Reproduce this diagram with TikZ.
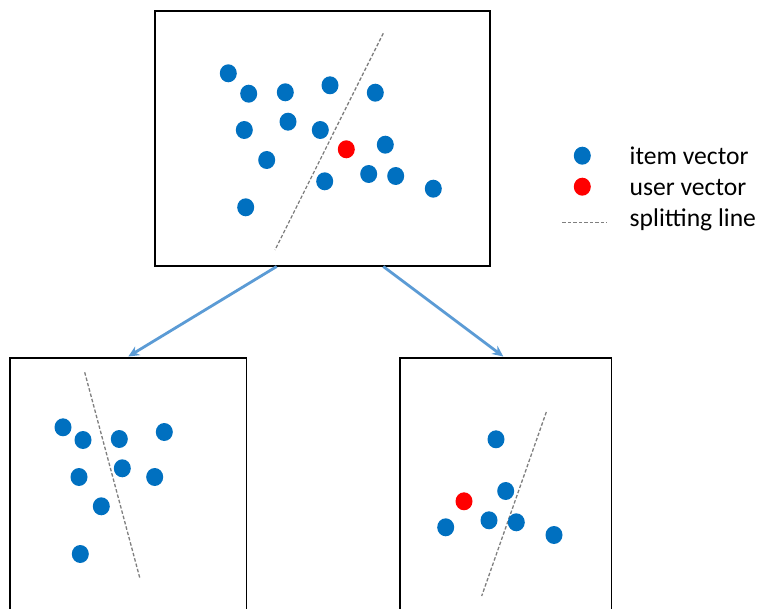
\documentclass[tikz,border=0pt]{standalone}
\usepackage{fontspec}
\setmainfont{Carlito}
\usetikzlibrary{shapes.geometric,arrows.meta}
\definecolor{itemblue}{HTML}{0070C0}
\definecolor{userred}{HTML}{FF0000}
\definecolor{arrowblue}{HTML}{5B9BD5}
\definecolor{splitgray}{HTML}{7F7F7F}
\tikzset{
  panel/.style={draw=black, line width=1.5pt},
  item/.style={ellipse, fill=itemblue, draw=none, inner sep=0pt, minimum width=17pt, minimum height=18pt},
  user/.style={ellipse, fill=userred, draw=none, inner sep=0pt, minimum width=17pt, minimum height=18pt},
  splitline/.style={draw=splitgray, line width=1.3pt, dash pattern=on 3.5pt off 2pt},
  flow/.style={draw=arrowblue, line width=2.8pt, -{Stealth[length=11pt,width=10pt]}},
  legendtext/.style={anchor=base west, inner sep=0pt, font=\fontsize{25.6}{30}\selectfont}
}
\begin{document}
\begin{tikzpicture}[x=1pt,y=-1pt]
\useasboundingbox (0,0) rectangle (760,609);
% top panel
\node[panel, rectangle, minimum width=335pt, minimum height=255pt, inner sep=0pt] (top) at (322.5,138.5) {};
\coordinate (ts1) at (383.3,33.3);
\coordinate (ts2) at (275,250);
\draw[splitline] (ts1) -- (ts2);
\node[item] (t1) at (228.3,73.3) {};
\node[item] (t2) at (248.7,93.7) {};
\node[item] (t3) at (285.3,92.3) {};
\node[item] (t4) at (330,85.3) {};
\node[item] (t5) at (375.3,92.7) {};
\node[item] (t6) at (244.3,130) {};
\node[item] (t7) at (288,121.7) {};
\node[item] (t8) at (320.3,130) {};
\node[user] (tu) at (346.3,149.3) {};
\node[item] (t9) at (385.3,144.7) {};
\node[item] (t10) at (266.7,160) {};
\node[item] (t11) at (324.7,181.3) {};
\node[item] (t12) at (368.7,174) {};
\node[item] (t13) at (395.7,176) {};
\node[item] (t14) at (433.3,188.7) {};
\node[item] (t15) at (245.7,207.3) {};
% bottom-left panel
\node[panel, rectangle, minimum width=236.5pt, minimum height=280pt, inner sep=0pt, anchor=north west] (left) at (9.3,357.3) {};
\coordinate (ls1) at (84.7,372.3);
\coordinate (ls2) at (140,578.7);
\draw[splitline] (ls1) -- (ls2);
\node[item] (l1) at (63,427.3) {};
\node[item] (l2) at (83,440) {};
\node[item] (l3) at (119.3,439) {};
\node[item] (l4) at (164.3,432) {};
\node[item] (l5) at (79,477) {};
\node[item] (l6) at (122.3,468.3) {};
\node[item] (l7) at (154.7,477) {};
\node[item] (l8) at (101.3,506.3) {};
\node[item] (l9) at (80.3,554) {};
% bottom-right panel
\node[panel, rectangle, minimum width=211.4pt, minimum height=280pt, inner sep=0pt, anchor=north west] (right) at (399.3,357.3) {};
\coordinate (rs1) at (546.3,412);
\coordinate (rs2) at (481.7,596);
\draw[splitline] (rs1) -- (rs2);
\node[item] (r1) at (496,439.3) {};
\node[item] (r2) at (505.7,491) {};
\node[user] (ru) at (464,501.3) {};
\node[item] (r3) at (445.7,527.3) {};
\node[item] (r4) at (489,520.3) {};
\node[item] (r5) at (516.3,522.3) {};
\node[item] (r6) at (554,535) {};
% arrows
\coordinate (a1s) at (276.7,266.5);
\coordinate (a1e) at (128.3,356.5);
\coordinate (a2s) at (383.3,266.5);
\coordinate (a2e) at (503.3,356.5);
\draw[flow] (a1s) -- (a1e);
\draw[flow] (a2s) -- (a2e);
% legend
\node[item] (lgi) at (582.3,155.7) {};
\node[user] (lgu) at (582.3,186.7) {};
\coordinate (lgs1) at (562.3,222.7);
\coordinate (lgs2) at (607.3,222.7);
\draw[splitline] (lgs1) -- (lgs2);
\node[legendtext] (lti) at (629.5,164.3) {item vector};
\node[legendtext] (ltu) at (629.5,195.7) {user vector};
\node[legendtext] (lts) at (629.5,226.7) {splitting line};
\end{tikzpicture}
\end{document}
